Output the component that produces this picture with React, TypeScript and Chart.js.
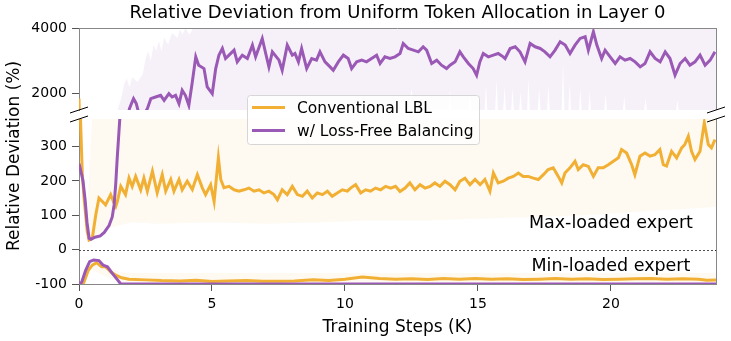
import React, { useEffect, useRef } from "react";
import { Chart, registerables } from "chart.js";

Chart.register(...registerables);

// ---------------- data ----------------
const TITLE = "Relative Deviation from Uniform Token Allocation in Layer 0";
const X_TITLE = "Training Steps (K)";
const Y_TITLE = "Relative Deviation (%)";
const SERIES_NAMES = ["Conventional LBL", "w/ Loss-Free Balancing"];
const ANNOT_TEXT = ["Max-loaded expert", "Min-loaded expert"];
const ANNOT_STEP = [20, 20];
const ANNOT_VALUE = [62, -62];

const xTicks = [0, 5, 10, 15, 20];
const topTicks = [2000, 4000];
const topTickLabels = ["2000", "4000"];
const botTicks = [-100, 0, 100, 200, 300];
const botTickLabels = ["-100", "0", "100", "200", "300"];

// Conventional LBL, max-loaded expert (smoothed)
const lblMaxSteps = [0, 0.04, 0.125, 0.19, 0.25, 0.31, 0.38, 0.5, 0.63, 0.75, 0.88, 1.0, 1.19, 1.32, 1.38, 1.44, 1.57, 1.75, 1.88, 2.0, 2.13, 2.32, 2.44, 2.57, 2.76, 2.94, 3.13, 3.26, 3.45, 3.57, 3.76, 3.88, 4.07, 4.26, 4.45, 4.64, 4.76, 4.95, 5.08, 5.24, 5.33, 5.45, 5.64, 5.83, 6.02, 6.2, 6.39, 6.58, 6.77, 6.95, 7.14, 7.33, 7.46, 7.64, 7.83, 8.02, 8.21, 8.4, 8.58, 8.77, 8.96, 9.15, 9.34, 9.52, 9.71, 9.9, 10.09, 10.21, 10.4, 10.59, 10.78, 10.96, 11.15, 11.34, 11.53, 11.72, 11.9, 12.07, 12.26, 12.44, 12.63, 12.82, 13.01, 13.2, 13.38, 13.57, 13.76, 13.95, 14.14, 14.32, 14.51, 14.7, 14.89, 15.08, 15.26, 15.45, 15.58, 15.76, 15.95, 16.14, 16.33, 16.52, 16.7, 16.89, 17.08, 17.27, 17.46, 17.64, 17.83, 18.02, 18.15, 18.27, 18.46, 18.65, 18.77, 18.96, 19.15, 19.34, 19.52, 19.71, 19.9, 20.09, 20.28, 20.4, 20.59, 20.78, 20.9, 21.09, 21.28, 21.47, 21.65, 21.84, 21.97, 22.09, 22.28, 22.47, 22.66, 22.78, 22.91, 23.03, 23.16, 23.35, 23.51, 23.66, 23.78, 23.91];
const lblMaxValues = [1850, 420, 218, 150, 101, 53, 28, 33, 101, 150, 140, 130, 160, 135, 126, 140, 184, 160, 208, 184, 213, 174, 208, 170, 228, 165, 218, 170, 204, 170, 204, 174, 199, 175, 218, 179, 160, 189, 140, 267, 204, 180, 184, 174, 170, 174, 179, 170, 174, 165, 170, 160, 145, 174, 160, 184, 160, 155, 170, 150, 165, 160, 170, 155, 165, 174, 170, 179, 189, 165, 174, 170, 179, 174, 184, 179, 184, 169, 179, 194, 174, 189, 179, 184, 194, 184, 199, 189, 174, 199, 208, 189, 204, 189, 204, 170, 223, 194, 199, 208, 213, 223, 213, 213, 208, 204, 218, 233, 238, 213, 194, 223, 238, 257, 233, 247, 242, 213, 238, 238, 247, 257, 267, 291, 281, 247, 218, 272, 281, 272, 276, 291, 247, 243, 286, 267, 296, 306, 330, 286, 262, 286, 369, 306, 296, 320];

// Conventional LBL, min-loaded expert
const lblMinSteps = [0, 0.16, 0.35, 0.5, 0.66, 0.85, 1.0, 1.07, 1.2, 1.4, 1.6, 1.88, 2.5, 3.1, 3.8, 4.4, 5.0, 5.6, 6.3, 6.9, 7.5, 8.1, 8.8, 9.4, 10.0, 10.65, 11.3, 11.9, 12.5, 13.1, 13.7, 14.3, 14.9, 15.5, 16.1, 16.7, 17.3, 17.9, 18.5, 19.1, 19.7, 20.3, 20.9, 21.5, 22.1, 22.7, 23.3, 23.6, 23.95];
const lblMinValues = [-100, -100, -60, -45, -38, -50, -50, -55, -65, -75, -82, -86, -88, -90, -91, -89, -93, -91, -90, -92, -92, -91, -88, -90, -86, -80, -84, -86, -85, -87, -84, -86, -84, -86, -85, -87, -86, -84, -86, -85, -87, -86, -85, -84, -86, -85, -86, -89, -88];

// Loss-Free Balancing, max-loaded expert (smoothed)
const lfbMaxSteps = [0, 0.1, 0.15, 0.23, 0.3, 0.38, 0.45, 0.6, 0.8, 0.95, 1.13, 1.25, 1.32, 1.38, 1.44, 1.5, 1.55, 1.7, 1.8, 1.9, 2.0, 2.05, 2.15, 2.25, 2.4, 2.5, 2.57, 2.7, 2.88, 3.07, 3.2, 3.38, 3.5, 3.63, 3.76, 3.88, 4.0, 4.13, 4.26, 4.39, 4.5, 4.7, 4.82, 5.01, 5.14, 5.26, 5.39, 5.51, 5.64, 5.83, 5.95, 6.14, 6.33, 6.52, 6.64, 6.89, 7.02, 7.14, 7.27, 7.52, 7.64, 7.83, 8.02, 8.12, 8.25, 8.37, 8.56, 8.75, 8.93, 9.06, 9.25, 9.44, 9.56, 9.75, 9.94, 10.12, 10.25, 10.44, 10.63, 10.81, 11.0, 11.19, 11.32, 11.5, 11.69, 11.88, 12.07, 12.19, 12.38, 12.57, 12.76, 12.94, 13.07, 13.26, 13.45, 13.63, 13.82, 13.95, 14.14, 14.32, 14.45, 14.64, 14.82, 14.95, 15.07, 15.2, 15.39, 15.58, 15.76, 15.95, 16.02, 16.21, 16.4, 16.58, 16.77, 16.96, 17.15, 17.34, 17.52, 17.71, 17.9, 18.09, 18.28, 18.46, 18.65, 18.84, 19.03, 19.15, 19.34, 19.47, 19.65, 19.78, 19.97, 20.16, 20.34, 20.53, 20.72, 20.91, 21.1, 21.28, 21.47, 21.66, 21.85, 22.04, 22.22, 22.41, 22.6, 22.79, 22.97, 23.16, 23.35, 23.54, 23.73, 23.91];
const lfbMaxValues = [250, 218, 200, 145, 80, 33, 30, 36, 40, 50, 70, 95, 130, 190, 270, 340, 400, 800, 1200, 1550, 1750, 1846, 1700, 1400, 1350, 1450, 1540, 1846, 1897, 1948, 1795, 1999, 1897, 1948, 1693, 2101, 1948, 1642, 2356, 3121, 2866, 2764, 2203, 1999, 2764, 3172, 3376, 3070, 3172, 3325, 2968, 3172, 3070, 3478, 3121, 3682, 3223, 2815, 3274, 3019, 2713, 3478, 3172, 3223, 2968, 3376, 2764, 3070, 3019, 3274, 2968, 2815, 2713, 2968, 3172, 3070, 2764, 2968, 3019, 2968, 3070, 3172, 2917, 3121, 3070, 3121, 3223, 3529, 3376, 3325, 3274, 3427, 3325, 2917, 3019, 2866, 2764, 2866, 2968, 3274, 3121, 2917, 2764, 2560, 2968, 3223, 3121, 3172, 3223, 3121, 3070, 3376, 3427, 3274, 2968, 3529, 3427, 3376, 3274, 3121, 3325, 3580, 3478, 3223, 3478, 3682, 3733, 3325, 3886, 3478, 3070, 3325, 3121, 2917, 3121, 3019, 3070, 2968, 2815, 2917, 3274, 3070, 2968, 3274, 3070, 2560, 2917, 3070, 2866, 2968, 3172, 2866, 3019, 3274];

// Loss-Free Balancing, min-loaded expert
const lfbMinSteps = [0, 0.1, 0.25, 0.4, 0.55, 0.75, 0.9, 1.07, 1.26, 1.45, 1.57, 23.95];
const lfbMinValues = [-100, -95, -60, -35, -30, -32, -45, -50, -70, -88, -100, -100];

// raw (unsmoothed) spread, shown as light bands
const lfbBandTopSteps = [1.45, 1.6, 1.7, 1.8, 1.9, 2.0, 2.2, 2.4, 2.5, 2.6, 2.7, 2.8, 2.9, 3.0, 3.1, 3.2, 3.35, 3.5, 3.7, 3.8, 3.9, 4.0, 4.15, 4.3, 23.95];
const lfbBandTopValues = [1500, 1900, 2300, 2450, 2200, 2500, 2350, 2600, 3050, 3300, 3000, 3480, 3300, 3600, 3300, 3700, 3500, 3850, 3700, 3950, 3800, 4000, 3800, 4000, 4000];
const lfbBandLowSteps = [1.45, 12.4, 12.5, 12.6, 12.85, 12.9, 12.95, 13.9, 13.95, 14.0, 14.65, 14.7, 14.75, 15.25, 15.3, 15.35, 15.65, 15.7, 15.75, 15.95, 16.0, 16.05, 16.25, 16.3, 16.35, 16.55, 16.6, 16.65, 16.85, 16.9, 16.95, 17.25, 17.3, 17.35, 17.6, 17.65, 17.7, 18.15, 18.2, 18.25, 18.4, 18.45, 18.5, 18.8, 18.85, 18.9, 19.15, 19.2, 19.25, 19.75, 19.8, 19.85, 20.45, 20.5, 20.55, 21.25, 21.3, 21.35, 22.45, 22.5, 22.55, 23.95];
const lfbBandLowValues = [1500, 1500, 2150, 1500, 1500, 1900, 1500, 1500, 2100, 1500, 1500, 2000, 1500, 1500, 2250, 1500, 1500, 2400, 1500, 1500, 2200, 1500, 1500, 2150, 1500, 1500, 2050, 1500, 1500, 2450, 1500, 1500, 2150, 1500, 1500, 2250, 1500, 1500, 2950, 1500, 1500, 2300, 1500, 1500, 2150, 1500, 1500, 2050, 1500, 1500, 2000, 1500, 1500, 1900, 1500, 1500, 1850, 1500, 1500, 1800, 1500, 1500];
const lblBandTopSteps = [0.3, 0.4, 0.5, 23.95];
const lblBandTopValues = [80, 250, 380, 380];
const lblBandLowSteps = [0.3, 0.6, 1.0, 1.5, 2.0, 3.0, 5.0, 7.0, 9.0, 11.0, 13.0, 15.0, 17.0, 19.0, 21.0, 22.0, 23.0, 23.95];
const lblBandLowValues = [20, 40, 60, 70, 80, 75, 80, 75, 80, 85, 85, 90, 95, 100, 110, 115, 120, 125];
const lblMinBandTopSteps = [0.5, 1.5, 2.0, 23.95];
const lblMinBandTopValues = [-30, -65, -68, -68];
const lblMinBandLowSteps = [0.5, 1.5, 23.95];
const lblMinBandLowValues = [-60, -95, -95];

// ---------------- styling ----------------
const FONT = '"DejaVu Sans", "Liberation Sans", sans-serif';
const ORANGE = "#f1b034";
const PURPLE = "#9b59b6";
const SPINE = "#888888";

const pts = (xs: number[], ys: number[]) => xs.map((x, i) => ({ x, y: ys[i] }));

const lineDs = (data: any, color: string, axis: string) => ({
  data,
  yAxisID: axis,
  borderColor: color,
  backgroundColor: color,
  borderWidth: 3,
  pointRadius: 0,
  fill: false,
  tension: 0,
  order: 0,
  isLine: true,
});

const bandDs = (data: any, color: string, axis: string, fillNext: boolean) => ({
  data,
  yAxisID: axis,
  borderWidth: 0,
  borderColor: "rgba(0,0,0,0)",
  backgroundColor: color,
  pointRadius: 0,
  fill: fillNext ? "+1" : false,
  tension: 0,
  order: 5,
});

export default function App() {
  const ref = useRef<HTMLCanvasElement | null>(null);

  useEffect(() => {
    const canvas = ref.current;
    if (!canvas) return;

    const lblMax = pts(lblMaxSteps, lblMaxValues);
    const lfbMax = pts(lfbMaxSteps, lfbMaxValues);
    const purpleBand = "rgba(155,89,182,0.085)";
    const orangeBand = "rgba(241,176,52,0.07)";

    const datasets: any[] = [
      lineDs(lfbMax, PURPLE, "yTop"),
      lineDs(lfbMax, PURPLE, "yBot"),
      lineDs(pts(lfbMinSteps, lfbMinValues), PURPLE, "yBot"),
      lineDs(lblMax, ORANGE, "yTop"),
      lineDs(lblMax, ORANGE, "yBot"),
      lineDs(pts(lblMinSteps, lblMinValues), ORANGE, "yBot"),
      bandDs(pts(lfbBandTopSteps, lfbBandTopValues), purpleBand, "yTop", true),
      bandDs(pts(lfbBandLowSteps, lfbBandLowValues), purpleBand, "yTop", false),
      bandDs(pts(lblBandTopSteps, lblBandTopValues), orangeBand, "yBot", true),
      bandDs(pts(lblBandLowSteps, lblBandLowValues), orangeBand, "yBot", false),
      bandDs(pts(lblMinBandTopSteps, lblMinBandTopValues), orangeBand, "yBot", true),
      bandDs(pts(lblMinBandLowSteps, lblMinBandLowValues), orangeBand, "yBot", false),
    ];

    const fixW = (s: any) => {
      s.width = 79;
    };
    const tickFont = { family: FONT, size: 14 };
    const yGrid = { display: true, drawOnChartArea: false, drawTicks: true, tickLength: 7, color: "#555" };

    const deco = {
      id: "deco",
      beforeDatasetDraw(chart: any, args: any) {
        const ds = chart.data.datasets[args.index];
        if (!ds.isLine) return;
        const ys = args.meta.yScale;
        const ca = chart.chartArea;
        const ctx = chart.ctx;
        ctx.save();
        ctx.beginPath();
        ctx.rect(ca.left, ys.top, ca.right - ca.left, ys.bottom - ys.top);
        ctx.clip();
      },
      afterDatasetDraw(chart: any, args: any) {
        const ds = chart.data.datasets[args.index];
        if (!ds.isLine) return;
        chart.ctx.restore();
      },
      beforeDatasetsDraw(chart: any) {
        const ctx = chart.ctx;
        const ca = chart.chartArea;
        const yb = chart.scales.yBot;
        const y0 = Math.round(yb.getPixelForValue(0)) + 0.5;
        ctx.save();
        ctx.strokeStyle = "#222";
        ctx.lineWidth = 0.8;
        ctx.setLineDash([2, 2]);
        ctx.beginPath();
        ctx.moveTo(ca.left, y0);
        ctx.lineTo(ca.right, y0);
        ctx.stroke();
        ctx.restore();
      },
      afterDraw(chart: any) {
        const ctx = chart.ctx;
        const ca = chart.chartArea;
        const yt = chart.scales.yTop;
        const yb = chart.scales.yBot;
        const xs = chart.scales.x;
        ctx.save();
        // spines (top and right)
        ctx.strokeStyle = SPINE;
        ctx.lineWidth = 1;
        ctx.beginPath();
        ctx.moveTo(ca.left, Math.round(yt.top) + 0.5);
        ctx.lineTo(ca.right, Math.round(yt.top) + 0.5);
        const rx = Math.round(ca.right) + 0.5;
        ctx.moveTo(rx, yt.top);
        ctx.lineTo(rx, yt.bottom);
        ctx.moveTo(rx, yb.top);
        ctx.lineTo(rx, yb.bottom);
        ctx.stroke();

        // break marks
        ctx.strokeStyle = "#000";
        ctx.lineWidth = 1;
        ctx.beginPath();
        for (const bx of [ca.left, ca.right]) {
          for (const by of [yt.bottom, yb.top]) {
            ctx.moveTo(bx - 9, by + 3);
            ctx.lineTo(bx + 9, by - 3);
          }
        }
        ctx.stroke();

        // annotations
        ctx.fillStyle = "#000";
        ctx.font = `17.5px ${FONT}`;
        ctx.textAlign = "center";
        ctx.textBaseline = "alphabetic";
        ANNOT_TEXT.forEach((t, i) => {
          ctx.fillText(t, xs.getPixelForValue(ANNOT_STEP[i]), yb.getPixelForValue(ANNOT_VALUE[i]));
        });

        // title
        const cx = (ca.left + ca.right) / 2;
        ctx.font = `18px ${FONT}`;
        ctx.fillText(TITLE, cx, ca.top - 10);
        // x title
        ctx.font = `17px ${FONT}`;
        ctx.fillText(X_TITLE, cx, 332);
        // y title
        ctx.save();
        ctx.translate(19, (ca.top + ca.bottom) / 2);
        ctx.rotate(-Math.PI / 2);
        ctx.fillText(Y_TITLE, 0, 0);
        ctx.restore();

        // legend
        const lx = ca.left + 168;
        const ly = ca.top + 67;
        const lw = 232;
        const lh = 49;
        ctx.fillStyle = "rgba(255,255,255,0.85)";
        ctx.strokeStyle = "#d6d6d6";
        ctx.lineWidth = 1;
        ctx.beginPath();
        ctx.roundRect(lx + 0.5, ly + 0.5, lw, lh, 3);
        ctx.fill();
        ctx.stroke();
        const colors = [ORANGE, PURPLE];
        ctx.font = `15.5px ${FONT}`;
        ctx.textAlign = "left";
        ctx.textBaseline = "middle";
        SERIES_NAMES.forEach((name, i) => {
          const yy = ly + 12.5 + i * 23;
          ctx.strokeStyle = colors[i];
          ctx.lineWidth = 3;
          ctx.beginPath();
          ctx.moveTo(lx + 5, yy);
          ctx.lineTo(lx + 38, yy);
          ctx.stroke();
          ctx.fillStyle = "#000";
          ctx.fillText(name, lx + 50, yy + 1);
        });
        ctx.restore();
      },
    };

    const chart = new Chart(canvas, {
      type: "line",
      data: { datasets },
      options: {
        animation: false,
        responsive: false,
        events: [],
        layout: { padding: { top: 28, right: 15, left: 0, bottom: 0 } },
        plugins: { legend: { display: false }, tooltip: { enabled: false }, title: { display: false } },
        scales: {
          x: {
            type: "linear",
            position: "bottom",
            min: 0,
            max: 23.95,
            afterBuildTicks: (s: any) => {
              s.ticks = xTicks.map((v) => ({ value: v }));
            },
            afterFit: (s: any) => {
              s.height = 57;
            },
            ticks: { font: tickFont, color: "#000", padding: 5, maxRotation: 0, autoSkip: false, callback: (v: any) => String(v) },
            grid: { display: true, drawOnChartArea: false, drawTicks: true, tickLength: 7, color: "#555" },
            border: { display: true, color: SPINE, width: 1 },
          },
          yTop: {
            type: "linear",
            position: "left",
            stack: "v",
            stackWeight: 82,
            weight: 3,
            min: 1500,
            max: 4000,
            afterFit: fixW,
            afterBuildTicks: (s: any) => {
              s.ticks = topTicks.map((v) => ({ value: v }));
            },
            ticks: { font: tickFont, color: "#000", padding: 5, autoSkip: false, callback: (v: any) => topTickLabels[topTicks.indexOf(v)] ?? "" },
            grid: yGrid,
            border: { display: true, color: SPINE, width: 1 },
          },
          yGap: {
            type: "linear",
            position: "left",
            stack: "v",
            stackWeight: 9,
            weight: 2,
            min: 0,
            max: 1,
            afterFit: fixW,
            ticks: { display: false },
            grid: { display: false },
            border: { display: false },
          },
          yBot: {
            type: "linear",
            position: "left",
            stack: "v",
            stackWeight: 165,
            weight: 1,
            min: -100,
            max: 380,
            afterFit: fixW,
            afterBuildTicks: (s: any) => {
              s.ticks = botTicks.map((v) => ({ value: v }));
            },
            ticks: { font: tickFont, color: "#000", padding: 5, autoSkip: false, callback: (v: any) => botTickLabels[botTicks.indexOf(v)] ?? "" },
            grid: yGrid,
            border: { display: true, color: SPINE, width: 1 },
          },
        },
      } as any,
      plugins: [deco],
    });

    return () => chart.destroy();
  }, []);

  return (
    <div style={{ position: "fixed", left: 0, top: 0, width: 731, height: 341, background: "#fff" }}>
      <canvas ref={ref} width={731} height={341} style={{ display: "block" }} />
    </div>
  );
}
